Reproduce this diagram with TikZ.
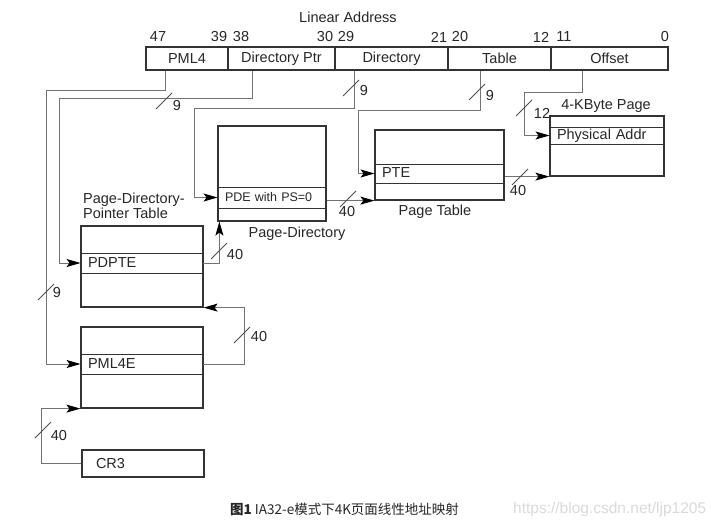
\documentclass[tikz,border=0pt]{standalone}
\usepackage{fontspec}
\setmainfont{Liberation Sans}
\newfontfamily\cjk{Noto Sans CJK SC}
\usetikzlibrary{arrows.meta}

\tikzset{
  field/.style={draw=black!80, line width=1.1pt, minimum height=23pt, inner sep=0pt},
  tbl/.style={draw=black!80, line width=1.2pt, inner sep=0pt},
  entry/.style={draw=black!80, line width=0.9pt, inner xsep=7pt, inner ysep=0pt,
    align=left, text height=10.5pt, text depth=2pt},
  conn/.style={draw=black!55, line width=0.9pt, -{Stealth[length=14pt,width=8pt,inset=3pt,color=black]}},
  bartick/.style={draw=black!70, line width=0.9pt},
  num/.style={inner sep=0pt},
  lbl/.style={inner sep=0pt},
  slash/.pic={\draw[bartick] (-8pt,-8pt) -- (8pt,8pt);}
}

\begin{document}
\begin{tikzpicture}[x=1pt, y=-1pt, font=\fontsize{14.5}{14.5}\selectfont, text=black!85]
\useasboundingbox (0,0) rectangle (720,527);

% linear address
\node[lbl] (title) at (348,17) {Linear Address};
\node[num] (b47) at (158,37) {47};
\node[num] (b39) at (219,37) {39};
\node[num] (b38) at (241,37) {38};
\node[num] (b30) at (325,37) {30};
\node[num] (b29) at (346,37) {29};
\node[num] (b21) at (439,37) {21};
\node[num] (b20) at (460,37) {20};
\node[num] (b12) at (541,37) {12};
\node[num] (b11) at (564,37) {11};
\node[num] (b0) at (665,37) {0};
\node[field, minimum width=82pt] (fPML4) at (187,58.5) {PML4};
\node[field, minimum width=107pt] (fDirPtr) at (281.5,58.5) {Directory Ptr};
\node[field, minimum width=113pt] (fDir) at (391.5,58.5) {Directory};
\node[field, minimum width=103pt] (fTable) at (499.5,58.5) {Table};
\node[field, minimum width=117pt] (fOffset) at (609.5,58.5) {Offset};

% tables
\node[tbl, minimum width=108pt, minimum height=95pt] (tPD) at (272,173.5) {};
\node[entry, text width=94pt, minimum height=21pt, font=\fontsize{12.5}{14}\selectfont] (pde) at (272,197.5) {PDE with PS=0};
\node[tbl, minimum width=129pt, minimum height=70pt] (tPT) at (439.5,165) {};
\node[entry, text width=115pt, minimum height=19pt] (pte) at (439.5,173.5) {PTE};
\node[tbl, minimum width=114pt, minimum height=60pt] (tPage) at (607,146) {};
\node[entry, text width=100pt, minimum height=17pt] (phys) at (607,135.5) {Physical Addr};
\node[tbl, minimum width=122pt, minimum height=81pt] (tPDPT) at (142,266.5) {};
\node[entry, text width=108pt, minimum height=20pt] (pdpte) at (142,263) {PDPTE};
\node[tbl, minimum width=122pt, minimum height=81pt] (tPML4) at (142,367.5) {};
\node[entry, text width=108pt, minimum height=20pt] (pml4e) at (142,364) {PML4E};
\node[tbl, inner xsep=14pt, text width=94pt, minimum height=27pt, align=left] (cr3) at (143,463.5) {CR3};

\node[lbl] (lPage) at (606,106) {4-KByte Page};
\node[lbl] (lPT) at (435,212) {Page Table};
\node[lbl] (lPD) at (297,234) {Page-Directory};
\node[lbl, anchor=west, align=left] (lPDPT) at (83,206) {Page-Directory-\\Pointer Table};

% index bits
\draw[conn] ([xshift=-22pt]fPML4.south) |- (46,90) |- (pml4e.west);
\draw[conn] ([xshift=-29.5pt]fDirPtr.south) |- (59,98) |- (pdpte.west);
\draw[conn] ([xshift=-37.5pt]fDir.south) |- (194,108) |- (pde.west);
\draw[conn] ([xshift=-19.5pt]fTable.south) |- (358,110) |- (pte.west);
\draw[conn] ([xshift=-27.5pt]fOffset.south) |- (524,92) |- (phys.west);

% table bases
\draw[conn] (cr3.west) -- ++(-40,0) |- (tPML4.south west);
\draw[conn] (pml4e.east) -- ++(41,0) |- (tPDPT.south east);
\draw[conn] (pdpte.east) -| ([xshift=2pt]tPD.south west);
\draw[conn] (tPT.south west -| tPD.east) -- (tPT.south west);
\draw[conn] (tPage.south west -| tPT.east) -- (tPage.south west);

% bus widths
\pic at (46,292) {slash};   \node[num] (w1) at (57,293) {9};
\pic at (164,101) {slash};  \node[num] (w2) at (177,106) {9};
\pic at (351,88) {slash};   \node[num] (w3) at (364,91) {9};
\pic at (477,92) {slash};   \node[num] (w4) at (490,96) {9};
\pic at (524,108) {slash};  \node[num] (w5) at (542,113) {12};
\pic at (520,177) {slash};  \node[num] (w6) at (518,191) {40};
\pic at (348,199) {slash};  \node[num] (w7) at (347,212) {40};
\pic at (219,251) {slash};  \node[num] (w8) at (235,255) {40};
\pic at (242,335) {slash};  \node[num] (w9) at (259,337) {40};
\pic at (43,430) {slash};   \node[num] (w10) at (59,436) {40};

% caption
\node[lbl, anchor=west, font=\cjk\fontsize{13.5}{15}\selectfont] (cap) at (230,509) {{\bfseries 图1}\ IA32-e模式下4K页面线性地址映射};
\node[lbl, anchor=west, text=black!15, font=\fontsize{15.5}{17}\selectfont] (wm) at (513,509) {https://blog.csdn.net/ljp1205};
\end{tikzpicture}
\end{document}
